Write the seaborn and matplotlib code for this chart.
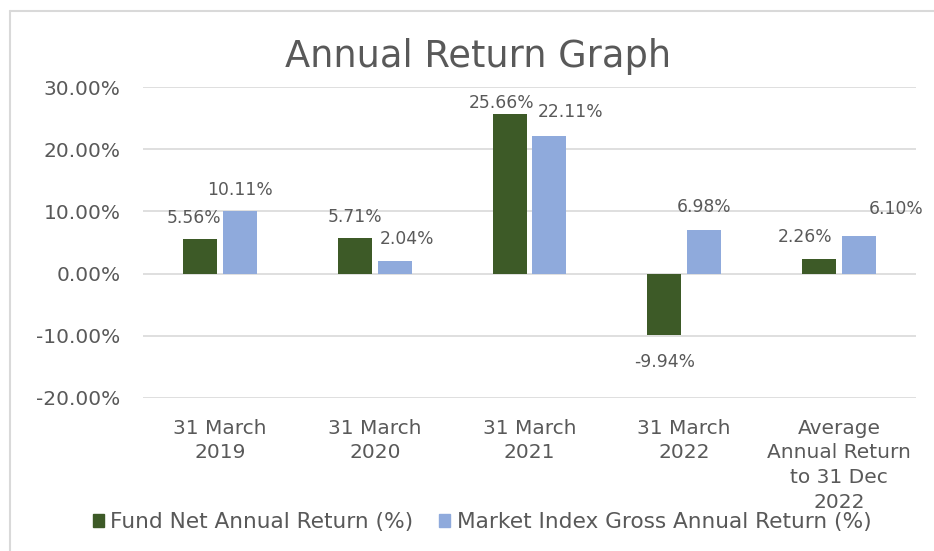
import matplotlib
matplotlib.use("Agg")
import matplotlib.pyplot as plt
import seaborn as sns
import pandas as pd
from matplotlib.lines import Line2D
from matplotlib.ticker import FuncFormatter

categories = ["31 March\n2019", "31 March\n2020", "31 March\n2021", "31 March\n2022",
              "Average\nAnnual Return\nto 31 Dec\n2022"]
series_names = ["Fund Net Annual Return (%)", "Market Index Gross Annual Return (%)"]
fund_values = [5.56, 5.71, 25.66, -9.94, 2.26]
market_values = [10.11, 2.04, 22.11, 6.98, 6.10]
y_ticks = [-20, -10, 0, 10, 20, 30]

df = pd.DataFrame({
    "category": categories * 2,
    "series": [series_names[0]] * len(categories) + [series_names[1]] * len(categories),
    "value": fund_values + market_values,
})

sns.set_theme(style="white")
plt.rcParams["font.family"] = ["DejaVu Sans"]
TEXT = "#595959"
colors = {series_names[0]: "#3D5A27", series_names[1]: "#8FAADC"}

fig = plt.figure(figsize=(9.34, 5.51), dpi=100)
ax = fig.add_axes([0.153, 0.278, 0.828, 0.564])

sns.barplot(data=df, x="category", y="value", hue="series", hue_order=series_names,
            order=categories, palette=colors, width=0.512, gap=0.14, ax=ax,
            saturation=1, legend=False, edgecolor="none")

ax.set_ylim(-20, 30)
ax.set_xlim(-0.5, len(categories) - 0.5)
ax.set_yticks(y_ticks)
ax.yaxis.set_major_formatter(FuncFormatter(lambda v, p: f"{v:.2f}%"))
ax.grid(axis="y", color="#D9D9D9", linewidth=1.2)
ax.set_axisbelow(True)
for s in ax.spines.values():
    s.set_visible(False)
ax.set_xlabel("")
ax.set_ylabel("")
ax.tick_params(axis="y", labelsize=14.5, colors=TEXT, length=0, pad=16)
ax.tick_params(axis="x", labelsize=14.5, colors=TEXT, length=0, pad=15)
for lbl in ax.get_xticklabels():
    lbl.set_linespacing(1.38)
    lbl.set_verticalalignment("top")

# data labels (offsets in points: dx, dy)
offsets_fund = [(-5, 15), (0, 15), (-6, 8), (0, -19), (-10, 16)]
offsets_market = [(0, 15), (9, 16), (15, 17), (0, 17), (27, 19)]
containers = ax.containers
for cont, vals, offs in [(containers[0], fund_values, offsets_fund),
                         (containers[1], market_values, offsets_market)]:
    for bar, v, (dx, dy) in zip(cont, vals, offs):
        x = bar.get_x() + bar.get_width() / 2
        ax.annotate(f"{v:.2f}%", xy=(x, v), xytext=(dx, dy), textcoords="offset points",
                    ha="center", va="center", fontsize=12.3, color=TEXT)

fig.text(0.512, 0.897, "Annual Return Graph", ha="center", va="center",
         fontsize=26.5, color=TEXT)

handles = [plt.Rectangle((0, 0), 1, 1, color=colors[n]) for n in series_names]
fig.legend(handles, series_names, loc="center", bbox_to_anchor=(0.516, 0.052),
           ncol=2, frameon=False, fontsize=15.6, labelcolor=TEXT,
           handlelength=0.5, handleheight=0.5, handletextpad=0.3, columnspacing=1.2)

fig.add_artist(Line2D([10 / 934, 10 / 934], [0, 1 - 11 / 551], transform=fig.transFigure,
                      color="#D9D9D9", linewidth=1.5))
fig.add_artist(Line2D([10 / 934, 1], [1 - 11 / 551, 1 - 11 / 551], transform=fig.transFigure,
                      color="#D9D9D9", linewidth=1.5))

fig.savefig("out.png", dpi=100)
